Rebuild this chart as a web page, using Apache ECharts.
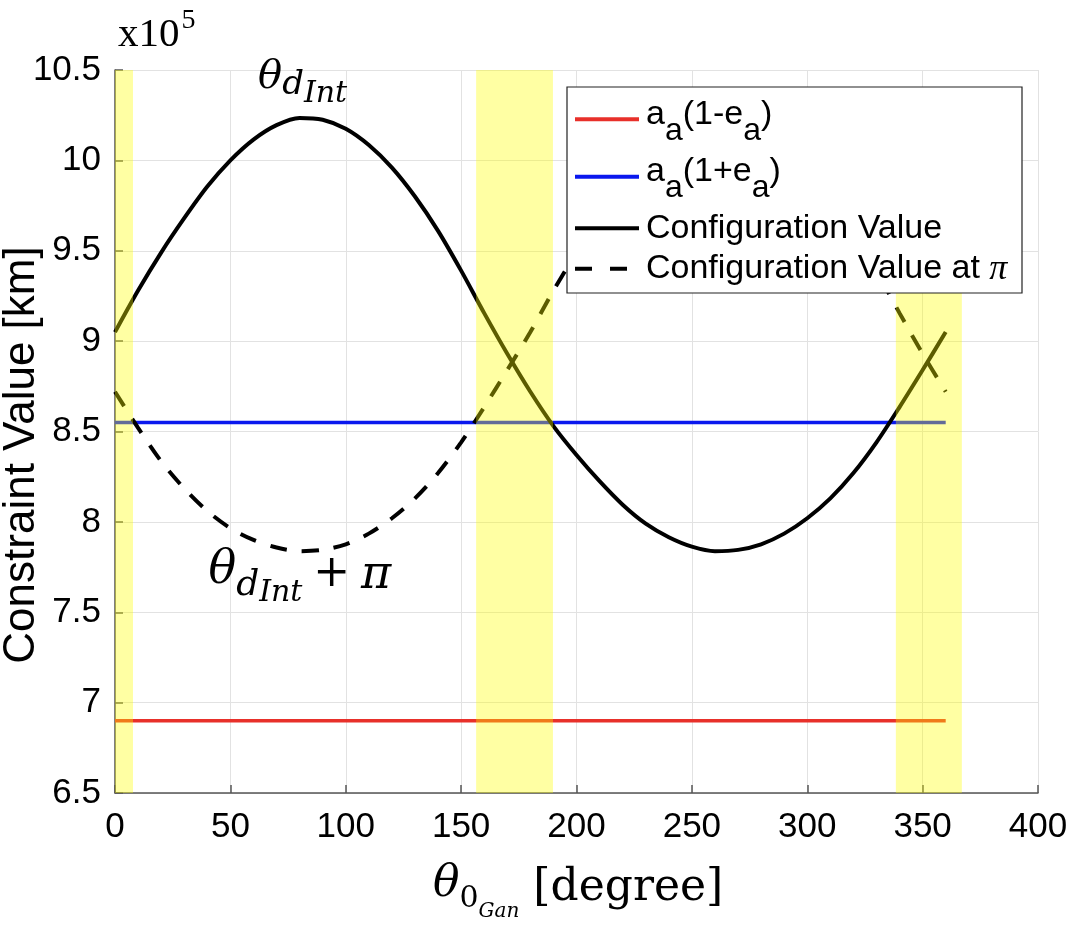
<!DOCTYPE html>
<html>
<head>
<meta charset="utf-8">
<script src="https://cdn.jsdelivr.net/npm/echarts@6/dist/echarts.min.js"></script>
<style>
    html, body { margin: 0; padding: 0; background: #fff; }
    #chart { width: 1074px; height: 928px; }
</style>
</head>
<body>
<div id="chart"></div>
<script>
; (function () {

    /* =================== data (units of 1e5 km) =================== */

    var angles = [0, 10, 20, 30, 40, 50, 60, 70, 80, 90, 100, 110, 120, 130, 140, 150, 160, 170, 180,
        190, 200, 210, 220, 230, 240, 250, 260, 270, 280, 290, 300, 310, 320, 330, 340, 350, 360];

    var configValue = [9.05, 9.28, 9.49, 9.68, 9.855, 10.0, 10.115, 10.195, 10.235, 10.225, 10.175, 10.085,
        9.96, 9.80, 9.61, 9.39, 9.155, 8.93, 8.72, 8.53, 8.37, 8.225, 8.095, 7.99, 7.915, 7.863, 7.838,
        7.845, 7.876, 7.935, 8.02, 8.13, 8.27, 8.44, 8.635, 8.84, 9.05];

    var configValueAtPi = [8.72, 8.52, 8.335, 8.185, 8.06, 7.965, 7.9, 7.858, 7.838, 7.845, 7.876, 7.935,
        8.02, 8.13, 8.27, 8.44, 8.635, 8.84, 9.05, 9.28, 9.49, 9.68, 9.855, 10.0, 10.115, 10.195, 10.235,
        10.225, 10.175, 10.085, 9.96, 9.80, 9.61, 9.39, 9.155, 8.93, 8.72];

    var lineEnds = [0, 360];
    var perigeeValue = [6.90, 6.90];      // a_a(1-e_a)
    var apogeeValue = [8.55, 8.55];       // a_a(1+e_a)

    // yellow highlighted ranges: [x from, x to, y top]
    var bandRanges = [[0, 7.8, 10.5], [156.5, 189.8, 10.5], [338.4, 367, 9.27]];

    var xTickValues = [0, 50, 100, 150, 200, 250, 300, 350, 400];
    var yTickValues = [6.5, 7, 7.5, 8, 8.5, 9, 9.5, 10, 10.5];

    // where the two curve labels sit (data coords of the left/middle of the theta)
    var annotationAnchors = [[62, 10.46], [40.5, 7.73]];

    var seriesNames = ['a_a(1-e_a)', 'a_a(1+e_a)', 'Configuration Value', 'Configuration Value at π'];
    var seriesColors = ['#e8302a', '#0a18ee', '#000', '#000'];

    /* ================================================================================ */

    var SANS = 'Liberation Sans';
    var SERIF = 'DejaVu Serif';
    var DASH = [17, 15];

    function pairs(xs, ys) {
        return xs.map(function (x, i) { return [x, ys[i]]; });
    }

    var measureCtx = document.createElement('canvas').getContext('2d');
    function textWidth(str, p) {
        measureCtx.font = (p.italic ? 'italic ' : '') + p.size + 'px "' + p.family + '"';
        return measureCtx.measureText(str).width;
    }

    // a row of text pieces laid side by side, each one shifted up/down by dy (for sub/superscripts)
    function runs(x, y, parts, z) {
        var els = [];
        parts.forEach(function (p) {
            els.push({
                type: 'text',
                x: x,
                y: y + (p.dy || 0),
                z: z,
                style: {
                    text: p.t,
                    fontFamily: p.family,
                    fontSize: p.size,
                    fontStyle: p.italic ? 'italic' : 'normal',
                    fill: '#000',
                    align: 'left',
                    verticalAlign: 'middle',
                    textAlign: 'left',
                    textVerticalAlign: 'middle'
                }
            });
            x += textWidth(p.t, p);
        });
        return els;
    }

    function sans(t, dy, size) { return { t: t, dy: dy || 0, size: size || 34, family: SANS }; }

    var myChart = echarts.init(document.getElementById('chart'));

    var option = {
        animation: false,
        backgroundColor: '#fff',
        grid: {
            left: 115,
            right: 36,
            top: 70,
            bottom: 135,
            containLabel: false
        },
        xAxis: {
            type: 'value',
            min: xTickValues[0],
            max: xTickValues[xTickValues.length - 1],
            interval: xTickValues[1] - xTickValues[0],
            axisLine: { lineStyle: { color: '#555', width: 1.5 } },
            axisTick: { inside: true, length: 8, lineStyle: { color: '#555', width: 1.5 } },
            axisLabel: { color: '#000', fontFamily: SANS, fontSize: 35, margin: 17 },
            splitLine: { show: true, lineStyle: { color: '#e2e2e2', width: 1 } }
        },
        yAxis: {
            type: 'value',
            min: yTickValues[0],
            max: yTickValues[yTickValues.length - 1],
            interval: yTickValues[1] - yTickValues[0],
            axisLine: { show: true, lineStyle: { color: '#555', width: 1.5 } },
            axisTick: { show: true, inside: true, length: 8, lineStyle: { color: '#555', width: 1.5 } },
            axisLabel: { color: '#000', fontFamily: SANS, fontSize: 35, margin: 14 },
            splitLine: { show: true, lineStyle: { color: '#e2e2e2', width: 1 } }
        },
        series: [
            {
                name: seriesNames[0],
                type: 'line',
                symbol: 'none',
                lineStyle: { color: seriesColors[0], width: 3.5 },
                data: pairs(lineEnds, perigeeValue)
            },
            {
                name: seriesNames[1],
                type: 'line',
                symbol: 'none',
                lineStyle: { color: seriesColors[1], width: 3.5 },
                data: pairs(lineEnds, apogeeValue)
            },
            {
                name: seriesNames[2],
                type: 'line',
                symbol: 'none',
                smooth: 0.3,
                lineStyle: { color: seriesColors[2], width: 4 },
                data: pairs(angles, configValue)
            },
            {
                name: seriesNames[3],
                type: 'line',
                symbol: 'none',
                smooth: 0.3,
                lineStyle: { color: seriesColors[3], width: 4, type: DASH },
                data: pairs(angles, configValueAtPi)
            },
            {
                name: 'bands',
                type: 'line',
                symbol: 'none',
                data: [],
                markArea: {
                    silent: true,
                    z: 5,
                    label: { show: false },
                    itemStyle: { color: 'rgba(255, 255, 0, 0.36)', borderWidth: 0 },
                    data: bandRanges.map(function (b) {
                        return [{ xAxis: b[0], yAxis: yTickValues[0] }, { xAxis: b[1], yAxis: b[2] }];
                    })
                }
            }
        ]
    };

    myChart.setOption(option);

    /* =================== legend box (drawn by hand for the subscripts) ======================== */

    var legendBox = { x: 567, y: 87, w: 455, h: 206 };
    var rowY = [119.3, 176.7, 228.3, 268.8];   // icon centres
    var textX = 646;

    var legendEls = [{
        type: 'rect',
        z: 30,
        shape: { x: legendBox.x, y: legendBox.y, width: legendBox.w, height: legendBox.h },
        style: { fill: '#fff', stroke: '#222', lineWidth: 1.2 }
    }];
    rowY.forEach(function (ry, i) {
        legendEls.push({
            type: 'line',
            z: 31,
            shape: { x1: 575, y1: ry, x2: 639, y2: ry },
            style: { stroke: seriesColors[i], lineWidth: 4, lineDash: i === 3 ? [17, 18] : null }
        });
    });
    legendEls = legendEls
        .concat(runs(textX, rowY[0] - 5, [sans('a'), sans('a', 16.5, 32), sans('(1-e'), sans('a', 16.5, 32), sans(')')], 31))
        .concat(runs(textX, rowY[1] - 5, [sans('a'), sans('a', 16.5, 32), sans('(1+e'), sans('a', 16.5, 32), sans(')')], 31))
        .concat(runs(textX, rowY[2], [sans('Configuration Value')], 31))
        .concat(runs(textX, rowY[3], [sans('Configuration Value at '),
            { t: 'π', size: 36, family: 'Liberation Serif', italic: true, dy: 1 }], 31));

    /* =================== text laid on top: axis titles, exponent, curve labels ======================== */

    var p1 = myChart.convertToPixel({ gridIndex: 0 }, annotationAnchors[0]);
    var p2 = myChart.convertToPixel({ gridIndex: 0 }, annotationAnchors[1]);

    function textEl(x, y, text, rich, extra) {
        var el = {
            type: 'text',
            x: x,
            y: y,
            z: 20,
            style: {
                text: text,
                fill: '#000',
                align: 'left',
                verticalAlign: 'middle',
                textAlign: 'left',
                textVerticalAlign: 'middle',
                rich: rich
            }
        };
        if (extra) {
            for (var k in extra) el.style[k] = extra[k];
        }
        return el;
    }

    var yTitle = textEl(22, 455, 'Constraint Value [km]', null, {
        fontFamily: SANS, fontSize: 44, align: 'center', textAlign: 'center'
    });
    yTitle.rotation = Math.PI / 2;

    myChart.setOption({
        graphic: [
            yTitle,
            textEl(118, 35, '{b|x10}{p|5}', {
                b: { fontFamily: 'Liberation Serif', fontSize: 41, lineHeight: 50 },
                p: { fontFamily: 'Liberation Serif', fontSize: 28, lineHeight: 50, padding: [0, 0, 28, 2] }
            }),
            textEl(433, 885, '{th|θ}{z|0}{g|Gan}{br| [degree]}', {
                th: { fontFamily: SERIF, fontStyle: 'italic', fontSize: 44, lineHeight: 70 },
                z: { fontFamily: SERIF, fontSize: 30, lineHeight: 70, padding: [28, 0, 0, 0] },
                g: { fontFamily: SERIF, fontStyle: 'italic', fontSize: 20, lineHeight: 70, padding: [54, 0, 0, 0] },
                br: { fontFamily: SERIF, fontSize: 44, lineHeight: 70, padding: [8, 0, 0, 0] }
            }),
            textEl(p1[0], p1[1], '{th|θ}{d|d}{n|Int}', {
                th: { fontFamily: SERIF, fontStyle: 'italic', fontSize: 40, lineHeight: 70 },
                d: { fontFamily: SERIF, fontStyle: 'italic', fontSize: 34, lineHeight: 70, padding: [16, 0, 0, 0] },
                n: { fontFamily: SERIF, fontStyle: 'italic', fontSize: 30, lineHeight: 70, padding: [34, 0, 0, 0] }
            }),
            textEl(p2[0], p2[1], '{th|θ}{d|d}{n|Int}{sp| }{pl|+}{sp| }{pi|π}', {
                th: { fontFamily: SERIF, fontStyle: 'italic', fontSize: 46, lineHeight: 80 },
                d: { fontFamily: SERIF, fontStyle: 'italic', fontSize: 36, lineHeight: 80, padding: [30, 0, 0, 0] },
                n: { fontFamily: SERIF, fontStyle: 'italic', fontSize: 30, lineHeight: 80, padding: [46, 0, 0, 0] },
                sp: { fontFamily: SERIF, fontSize: 34, lineHeight: 80 },
                pl: { fontFamily: SERIF, fontSize: 44, lineHeight: 80, padding: [8, 0, 0, 0] },
                pi: { fontFamily: SERIF, fontStyle: 'italic', fontSize: 46, lineHeight: 80, padding: [10, 0, 0, 0] }
            })
        ].concat(legendEls)
    });
}());
</script>
</body>
</html>
